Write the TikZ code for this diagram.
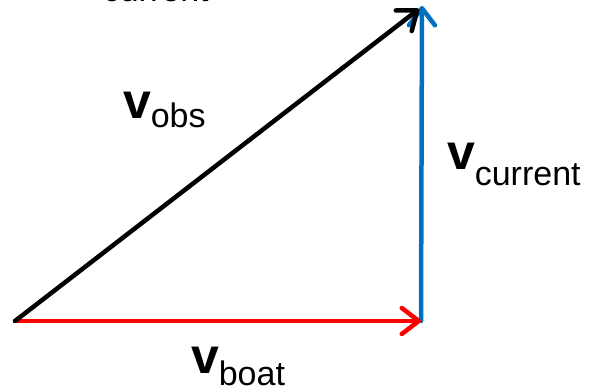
\documentclass[tikz,border=0pt]{standalone}
\usepackage{fontspec}
\setmainfont{Liberation Sans}
\usetikzlibrary{arrows.meta}
\definecolor{pptblue}{RGB}{0,112,192}
\begin{document}
\begin{tikzpicture}[x=1pt,y=-1pt,
  vec/.style={line width=4.5pt, line cap=round, line join=round,
    -{Straight Barb[length=17pt,width=26pt,line cap=round,line join=round]}},
  lbl/.style={anchor=base west, inner sep=0pt, outer sep=0pt},
]
\useasboundingbox (0,0) rectangle (589,389);
\coordinate (O) at (15,321);
\coordinate (B) at (421,321);
\coordinate (T) at (422,6);
\coordinate (Tb) at (419,9);
\draw[vec, draw=pptblue] (B) -- (T);
\draw[vec, draw=red] (O) -- (B);
\draw[vec, draw=black] (O) -- (Tb);
\node[lbl] (lobs) at (123,118) {{\fontsize{50}{50}\selectfont\bfseries v}\raisebox{-9pt}{\fontsize{34}{34}\selectfont obs}};
\node[lbl] (lcur) at (447,169) {{\fontsize{50}{50}\selectfont\bfseries v}\raisebox{-16pt}{\fontsize{34}{34}\selectfont current}};
\node[lbl] (lboat) at (191,373) {{\fontsize{50}{50}\selectfont\bfseries v}\raisebox{-12.5pt}{\fontsize{34}{34}\selectfont boat}};
\node[lbl] (ltop) at (75,-14.5) {{\fontsize{50}{50}\selectfont\bfseries v}\raisebox{-16pt}{\fontsize{34}{34}\selectfont current}};
\end{tikzpicture}
\end{document}
